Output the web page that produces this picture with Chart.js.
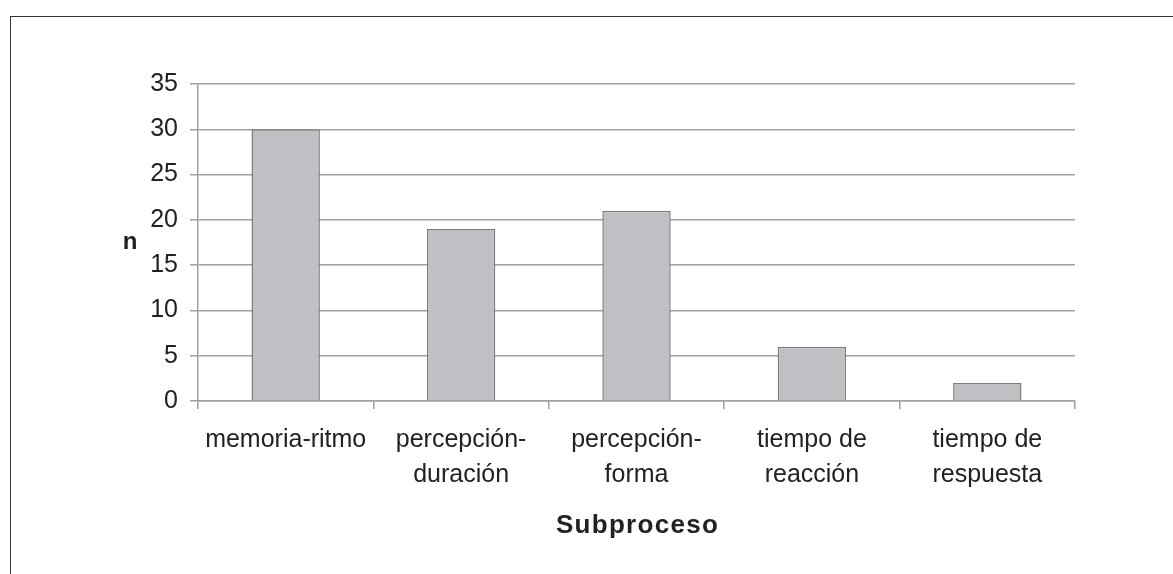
<!DOCTYPE html>
<html>
<head>
<meta charset="utf-8">
<script src="https://cdn.jsdelivr.net/npm/chart.js@4.4.1/dist/chart.umd.min.js"></script>
<style>
  html, body { margin: 0; padding: 0; background: #fff; }
  #wrap { position: relative; width: 1173px; height: 574px; overflow: hidden; }
  #frame { position: absolute; left: 10px; top: 16px; width: 1200px; height: 600px;
           border-left: 1px solid #333; border-top: 1px solid #333; }
  canvas { position: absolute; left: 0; top: 0; }
</style>
</head>
<body>
<div id="wrap">
  <div id="frame"></div>
  <canvas id="grafica" width="1173" height="574"></canvas>
</div>
<script>
// ==============================
// DATOS
// ==============================
const subprocesos = [
  ["memoria-ritmo"],
  ["percepción-", "duración"],
  ["percepción-", "forma"],
  ["tiempo de", "reacción"],
  ["tiempo de", "respuesta"]
];
const valores = [30, 19, 21, 6, 2];
const ticksY = [0, 5, 10, 15, 20, 25, 30, 35];

const fuente = "'Liberation Sans', Arial, sans-serif";
const texto = "#222";

// ==============================
// TITULOS DE EJES ("n" sin rotar, "Subproceso" espaciado)
// ==============================
const titulos = {
  id: "titulos",
  afterDraw(chart) {
    const { ctx, chartArea } = chart;
    ctx.save();
    ctx.fillStyle = texto;
    ctx.textAlign = "center";
    ctx.textBaseline = "middle";
    ctx.font = "bold 24px " + fuente;
    ctx.fillText("n", chartArea.left - 68, (chartArea.top + chartArea.bottom) / 2);
    ctx.font = "bold 26px " + fuente;
    ctx.letterSpacing = "1.3px";
    ctx.fillText("Subproceso", (chartArea.left + chartArea.right) / 2 + 1, chartArea.bottom + 125);
    ctx.restore();
  }
};

// ==============================
// GRAFICA
// ==============================
new Chart(document.getElementById("grafica"), {
  type: "bar",
  data: {
    labels: subprocesos,
    datasets: [{
      data: valores,
      backgroundColor: "#bfc0c4",
      borderColor: "#7d7d7d",
      borderWidth: 1.5,
      categoryPercentage: 1,
      barPercentage: 0.39
    }]
  },
  options: {
    responsive: false,
    animation: false,
    layout: { padding: { left: 100, right: 98, top: 84, bottom: 20 } },
    plugins: { legend: { display: false }, tooltip: { enabled: false } },
    scales: {
      x: {
        grid: { drawOnChartArea: false, drawTicks: true, tickLength: 8, color: "#a0a0a0", lineWidth: 1.5 },
        border: { color: "#a0a0a0", width: 1.5 },
        ticks: { color: texto, font: { family: fuente, size: 25, lineHeight: 1.42 }, padding: 13, maxRotation: 0 },
        afterFit(scale) { scale.height = 153; }
      },
      y: {
        min: 0, max: 35,
        afterBuildTicks(scale) { scale.ticks = ticksY.map(v => ({ value: v })); },
        grid: { color: "#a0a0a0", lineWidth: 1.5, tickLength: 8 },
        border: { color: "#a0a0a0", width: 1.5 },
        ticks: { color: texto, font: { family: fuente, size: 25 }, padding: 12 },
        afterFit(scale) { scale.width = 98; }
      }
    }
  },
  plugins: [titulos]
});
</script>
</body>
</html>
